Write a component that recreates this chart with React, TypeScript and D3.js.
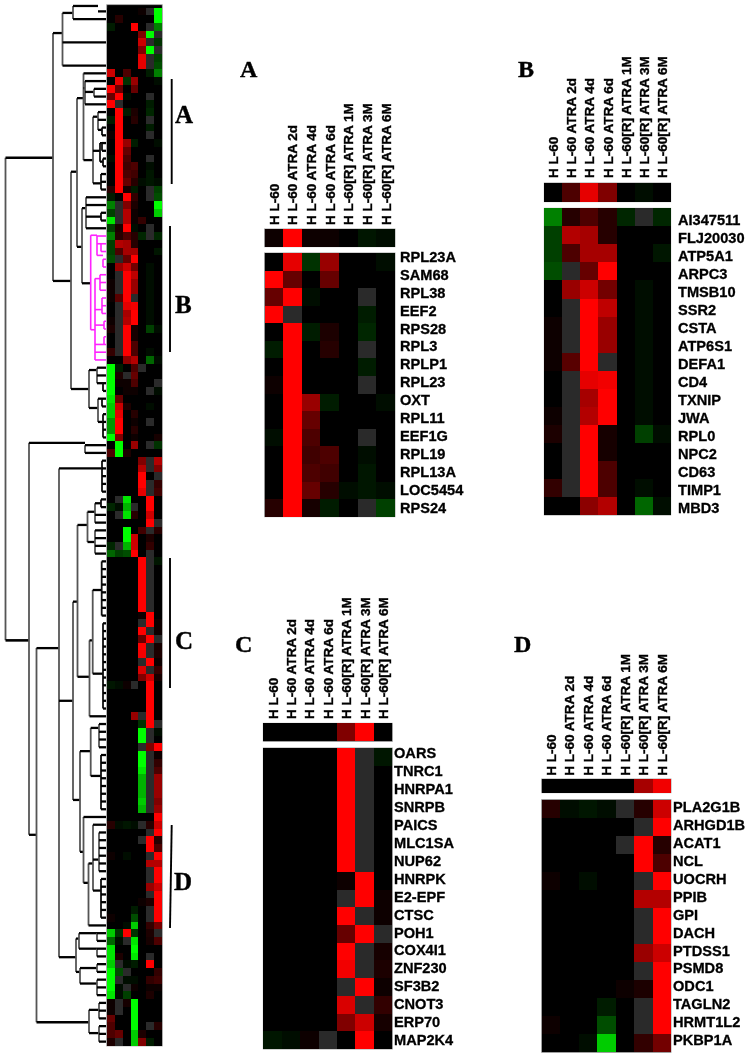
import React from "react";
import * as d3 from "d3";

const N = null; // missing value, drawn dark grey
type Cell = number | null;
type Row = Cell[];

const samples = ["H L-60", "H L-60 ATRA 2d", "H L-60 ATRA 4d", "H L-60 ATRA 6d", "H L-60[R] ATRA 1M", "H L-60[R] ATRA 3M", "H L-60[R] ATRA 6M"];

const genesA = ["RPL23A", "SAM68", "RPL38", "EEF2", "RPS28", "RPL3", "RPLP1", "RPL23", "OXT", "RPL11", "EEF1G", "RPL19", "RPL13A", "LOC5454", "RPS24"];
const stripA: Row = [0.5, 10, 0.5, 0.5, 0.2, -0.7, -0.3];
const valuesA: Row[] = [
  [0, 9, -2, 6, 0, 0, -0.5],
  [10, 4, 0, 4, 0, 0, 0],
  [4, 10, -0.3, 0, 0, N, 0],
  [10, N, 0, 0, 0, -1.2, 0],
  [0, 10, -1, 1, 0, -1.5, 0],
  [-1, 10, -0.2, 1.5, 0, N, 0],
  [0, 10, 0, 0.2, 0, -1, 0],
  [0.3, 10, 0, 0, 0, N, 0],
  [0, 10, 6, -1, 0, 0, -0.5],
  [0, 10, 4, 0, 0, 0, 0],
  [-0.3, 10, 3, 0, 0, N, 0],
  [0, 10, 2.5, 3, 0, -0.4, 0],
  [-0.2, 10, 3, 2.5, 0, -0.8, 0],
  [0, 10, 4, 1.5, -0.3, -0.7, -0.3],
  [1.5, 10, 0.8, -1, 0, N, -2.5],
];

const genesB = ["AI347511", "FLJ20030", "ATP5A1", "ARPC3", "TMSB10", "SSR2", "CSTA", "ATP6S1", "DEFA1", "CD4", "TXNIP", "JWA", "RPL0", "NPC2", "CD63", "TIMP1", "MBD3"];
const stripB: Row = [0, 3, 9, 5, 0, -0.3, 0];
const valuesB: Row[] = [
  [-5, 1.5, 3, 1.5, -1.5, N, -1.5],
  [-2.5, 7, 6.5, 1.5, 0, 0, -0.2],
  [-2.5, 3, 6.5, 6.5, 0, 0, -0.8],
  [-3, N, 4, 10, 0, 0.2, 0],
  [0, 6, 8, 4.5, 0, -0.4, 0],
  [0, N, 10, 7.5, 0, -0.3, 0],
  [0.4, N, 10, 6, 0, -0.3, -0.2],
  [0.3, N, 10, 6, 0, -0.5, 0],
  [0.3, 3.5, 10, N, 0, -0.4, 0],
  [0.2, N, 9, 9.5, 0, -0.3, 0],
  [0.2, N, 6.5, 10, 0, -0.3, 0],
  [0.4, N, 7, 10, 0, -0.5, 0],
  [1, N, 10, 0.8, 0, -2.5, -0.3],
  [0.2, N, 10, 0.8, 0, -0.2, 0],
  [0, N, 10, 3, 0, -0.2, 0],
  [2, N, 10, 3, 0, -0.4, 0],
  [0, 0, 5.5, 7, 0, -4, -0.4],
];

const genesC = ["OARS", "TNRC1", "HNRPA1", "SNRPB", "PAICS", "MLC1SA", "NUP62", "HNRPK", "E2-EPF", "CTSC", "POH1", "COX4I1", "ZNF230", "SF3B2", "CNOT3", "ERP70", "MAP2K4"];
const stripC: Row = [0, 0, 0, 0, 5, 10, 0];
const valuesC: Row[] = [
  [0, 0, 0, 0, 10, N, -0.8],
  [0, 0, 0, 0, 10, N, -0.2],
  [0, 0, 0, 0, 10, N, 0],
  [0, 0, 0, 0, 10, N, 0],
  [0, 0, 0, 0, 10, N, 0],
  [0, 0, 0, 0, 10, N, 0],
  [0, 0, 0, 0, 10, N, 0],
  [0, 0, 0, 0, 0.4, 10, 0],
  [0, 0, 0, 0, N, 10, 0.6],
  [0, 0, 0, 0, 10, N, 0.4],
  [0, 0, 0, 0, 4, 10, N],
  [0, 0, 0, 0, 10, N, 0.7],
  [0, 0, 0, 0, 9.5, N, 1.2],
  [0, 0, 0, 0, N, 10, 0.5],
  [0, 0, 0, 0, 8.5, N, 2],
  [0, 0, 0, 0, 5, 8, 0.8],
  [-0.7, -0.4, 0.5, N, 0, 10, 0],
];

const genesD = ["PLA2G1B", "ARHGD1B", "ACAT1", "NCL", "UOCRH", "PPIB", "GPI", "DACH", "PTDSS1", "PSMD8", "ODC1", "TAGLN2", "HRMT1L2", "PKBP1A"];
const stripD: Row = [0, 0, 0, -0.2, 0, 6.5, 9.5];
const valuesD: Row[] = [
  [1.5, -0.6, -0.8, -0.6, N, 1.5, 8],
  [0, 0, 0, 0, 0.2, N, 10],
  [0, 0, 0, 0, N, 10, 1.5],
  [0, 0, 0, 0, 0.1, 10, 3],
  [0.3, -0.1, -0.3, -0.2, 0, N, 10],
  [0, 0, 0, 0, 0.1, 7, 7],
  [0, 0, 0, 0, 0.1, N, 10],
  [0, 0, 0, 0, 0.1, N, 10],
  [0, 0, 0, 0, 0.1, 6, 8],
  [0, 0, 0, 0, 0, N, 10],
  [0, 0, 0, 0, 0.4, 1, 10],
  [0, 0, 0, -1, 0, N, 10],
  [0.3, 0, -0.1, -3, 0, N, 10],
  [0, 0, -0.6, -8, 0, 2, 4.5],
];

// Overview rows that are not part of one of the four enlarged clusters
const overviewTop: Row[] = [
  [0, 0, 0, 0, 0.3, N, -10],
  [0, 1.5, 0, -0.2, 0, 0.2, -10],
  [-1, 0, 0, 10, 0, N, -5],
  [0, 0, 0, 0, 5, -10, N],
  [0, 0, 0, 0, 8, N, -2],
  [0, 0, 0, 0, 5, -10, N],
  [0, 0, 0, 0, 9, N, -2.5],
  [0, 0, 0, 0, 9, N, -3],
  [8, 0, 3, 0, 0, -1, -5],
];
const overviewAB: Row[] = [
  [-1, 0, 10, 2, 0, N, -3],
  [-5, N, 5, 1, 0, 0, -10],
  [-2.5, N, 7, 0.5, 0, 0, -8],
  [-9, N, 7, 0.5, 2, 0, 0],
  [-2.5, 1, 10, -0.5, 0, N, 0],
];
const overviewBC: Row[] = [
  [-10, -1, 0.2, 3, N, -0.1, 0],
  [-10, 1, N, 4, 0, 0, 0],
  [-10, 0.3, 0.3, 3, 0, 0, N],
  [-10, 0.2, 0.6, 0.6, 0, N, -0.3],
  [-9, 4, 0.1, -0.1, 0, 0, 0],
  [-8, 8, 1, -0.1, 0, -0.3, 0],
  [-8, 9, 0.1, 1.5, 0, 0, 0],
  [-6, 10, 0, 0.5, 0, N, 0],
  [-6, 10, 0, 1.5, 0, 0, 0],
  [-10, 5, -0.2, 0.3, 0, 0, 0.8],
  [0, -10, 0.1, 6, 0, N, -2],
  [3, -10, 1, 0, 0, 0, -0.2],
  [0, 0, 0, 0, 5, N, 7],
  [0, 0, 0, 0, 7, N, 5],
  [0, 0, 0, 0, 10, 0, N],
  [0, 0, 0, 0, 10, N, 2],
  [0, 0, 0, 0, 9, N, 2.5],
  [0, N, -9, 0, 0, 10, 0],
  [-1.5, -0.5, -7, N, 0, 10, 0],
  [0, N, -9, 1.5, 0, 8, 0],
  [0, 0, 0, 0, 0, 10, N],
  [0, 0, -10, 0, 2.5, N, 1.5],
  [0, 0, -10, 8, 0, 1, 0],
  [-1.5, N, -7, 8, 0, 2, 0],
  [-4, -2.5, -3, 10, 0, N, 0],
];
const overviewCD: Row[] = [
  [0, 0, 0, 0, 0, 10, 0],
  [0, 0, 0, 0, 0, 10, 0],
  [0, 0, 0, 0, 0, 10, 0],
  [0.1, -0.2, 0, 6, N, 10, 0],
  [0, 0, 0, 0, -2, 10, N],
  [0, 0, 0, 0, -10, N, -0.5],
  [0, 0, 0, 0, -10, N, 0],
  [0, 0, 0, 0, N, 5, 10],
  [0, 0, 0, 0, -10, N, 0.3],
  [0, 0, 0, 0, -10, N, 2],
  [0, 0, 0, 0, -9, N, 3],
  [0, 0, 0, 0, -7, N, 6],
  [0, 0, 0, 0, -7, N, 6],
  [0, 0, 0, 0, -7, N, 6],
  [0, 0, 0, 0, -8, N, 5],
  [0, 0, 0, 0, -7, N, 6],
  [0, 0, -0.2, 0, 0, 0, 10],
];
const overviewBottom: Row[] = [
  [-8, -2, 10, -2, 0, 1, N],
  [-4, -0.5, N, -9, 0, 0.8, 3],
  [-9, 0, 0, -10, 0, 0, 0],
  [-9, 1, 0, -9, 0, N, 0],
  [-8, N, -0.3, -1, 0, 10, 0],
  [-10, -3, N, -0.2, 0, 0, 2],
  [-10, N, -0.5, -0.3, 0, 2, 2.5],
  [-10, -0.3, N, 0.3, 0, 0.5, 0.5],
  [-9, -0.3, -2.5, 0, 0, 1.2, 0],
  [0.3, N, 0.8, -10, 0, 0.2, 0],
  [0.5, N, 0, -10, 0, 0, 0],
  [4, 0.2, 0.2, -10, 0, 0, 0],
  [3, 0, 0, -10, 0, N, 1.5],
  [3, 4, 0, -8, 1, 0, 0],
  [1, N, 0, -8, 5, -1, 0],
];
const overviewRows: Row[] = [...overviewTop, ...valuesA, ...overviewAB, ...valuesB, ...overviewBC, ...valuesC, ...overviewCD, ...valuesD, ...overviewBottom];

// Cluster tree: [merge height, row position of the branch, ...children]; a bare number is a heat-map row.
type Tree = number | any[];
const treeUpper: Tree = [53, 19.4,
  [43.5, 3.3, [33, 0.7, [8, -0.2, 0], 1], 4, 7],
  [35, 35.3,
    [29, 21.2,
      [22.5, 11.7, 8,
        [21, 10.4, 9, [12, 10.9, 10, 11], 12],
        [13, 19.7, [8, 14.1, 13, 14, [4, 15.8, 15, 16]], [6, 18.5, [4, 17.5, 17, 18], [3, 19.9, 19, 20]], [5, 22.7, 21, 22, 23]]],
      [24, 30.9,
        [20, 25.9, 24, 25, [5, 27, 26, 27], 28],
        [15.3, 35.6,
          [9, 29.4, 29, [5, 30.5, 30, 31], [3, 32, 32, 33]],
          [11, 41.6, [6, 35, 34, 35, 36], [4, 39, 37, 38, 39], [2, 41, 40, 41], [2, 43.5, 42, 43], 44, 45]]]],
    [17, 49.25,
      [9, 46.8, 46, 47, [3, 48.5, 48, 49]],
      [8, 51.7, [4, 50.5, 50, 51], [3, 53.5, 52, 53, 54, 55]]]]];
const treeLower: Tree = [77, 81.7,
  [21, 56.2, 56, 57],
  [69.5, 106.8,
    [47, 82.7,
      [4, 59.5, 58, 59, 60, 61, 62],
      [33, 89.5,
        [28.5, 76.7,
          [18.5, 66.8, [11, 65.1, [5, 64, 63, 64], 65, 66], [11, 69, 67, 68, 69, 70]],
          [16.5, 86.4,
            [13.3, 81.7, [4.3, 75.2, 71, 72, 73, 74, 75, 76, 77, 78], [3, 86, 79, 80, 81, 82, 83, 84, 85, 86, 87, 88, 89, 90]],
            91]],
        [26, 102.3,
          [15.3, 96, [7, 93, 92, 93, 94, 95], [5, 99.2, 96, 97, 98, 99, 100, 101, 102, 103]],
          [22.5, 109, 104,
            [17.5, 113, [13, 110.5, 105, [7, 110, 106, 107, 108, 109, 110, 111], [5, 114, 112, 113, 114, 115, 116, 117]], 118]]]],
      [30, 122.6,
        [27, 120.2, [9, 119.5, 119, 120], [9, 121.5, 121, 122]],
        [26, 124.5, [9, 124, 123, 124], [9, 126, 125, 126, 127]]]],
    [17, 131, [7, 129.4, 128, 129, 130], [7, 132.4, 131, 132, 133]]]];
const treeRootHeight = 100.5;
const highlightedRows = [29, 45];

const color = d3.scaleLinear<string>().domain([-10, 0, 10]).range(["#00ff00", "#000000", "#ff0000"]).clamp(true);
const fill = (v: Cell) => (v === null ? "#2a2a2a" : color(v));

const cols = d3.range(7);
const overviewX = d3.scaleBand<number>().domain(cols).range([106.7, 162.3]);
const overviewY = d3.scaleLinear().domain([0, overviewRows.length]).range([7.5, 1045.5]);
const treeX = d3.scaleLinear().domain([0, 100.5]).range([106, 5.5]);

function leaves(t: Tree): number[] {
  return typeof t === "number" ? [t] : t.slice(2).flatMap(leaves);
}
const isHighlighted = (t: Tree) => {
  const l = leaves(t);
  return d3.min(l)! >= highlightedRows[0] && d3.max(l)! <= highlightedRows[1];
};
const rowOf = (t: Tree) => (typeof t === "number" ? t + 0.5 : t[1]);

function drawTree(t: any[], out: React.ReactNode[]) {
  const [h, , ...kids] = t;
  const x = treeX(h);
  const hl = isHighlighted(t);
  const rs = kids.map(rowOf);
  if (kids.length > 1)
    out.push(<line key={out.length} x1={x} x2={x} y1={overviewY(d3.min(rs)!)} y2={overviewY(d3.max(rs)!)} stroke={hl ? "#ff22ff" : h > 6 ? "#555" : "#111"} strokeWidth={hl ? 1.6 : 1.8} />);
  kids.forEach((k: Tree) => {
    const x2 = typeof k === "number" ? treeX(0) : treeX(k[0]);
    const y = overviewY(rowOf(k));
    out.push(<line key={out.length} x1={x} x2={x2} y1={y} y2={y} stroke={hl ? "#ff22ff" : "#000"} strokeWidth={hl ? 1.6 : 2.3} />);
    if (typeof k !== "number") drawTree(k, out);
  });
}

type PanelProps = {
  letter: string; letterX: number; letterY: number;
  x0: number; x1: number;
  stripY: [number, number]; matY: [number, number];
  strip: Row; values: Row[]; genes: string[];
  labelX: number; labelY: [number, number]; headY: number;
};

function Panel(p: PanelProps) {
  const x = d3.scaleBand<number>().domain(cols).range([p.x0, p.x1]);
  const y = d3.scaleBand<number>().domain(d3.range(p.genes.length)).range(p.matY);
  const labelY = d3.scalePoint<string>().domain(p.genes).range(p.labelY);
  return (
    <g>
      <text x={p.letterX} y={p.letterY} fontFamily="'Liberation Serif', serif" fontWeight="bold" fontSize={24} fill="#000" stroke="#000" strokeWidth={0.4}>{p.letter}</text>
      {samples.map((s, i) => (
        <text key={s} transform={`translate(${x(i)! + x.bandwidth() / 2 + 5},${p.headY}) rotate(-90)`} fontFamily="'Liberation Sans', Arial, sans-serif" fontWeight="bold" fontSize={13.5} fill="#000" stroke="#000" strokeWidth={0.35}>{s}</text>
      ))}
      <rect x={p.x0} y={p.stripY[0]} width={p.x1 - p.x0} height={p.stripY[1] - p.stripY[0]} fill="#000" stroke="#999" strokeWidth={0.9} />
      {p.strip.map((v, i) => (
        <rect key={i} shapeRendering="crispEdges" x={x(i)} y={p.stripY[0]} width={x.bandwidth()} height={p.stripY[1] - p.stripY[0]} fill={fill(v)} />
      ))}
      <rect x={p.x0} y={p.matY[0]} width={p.x1 - p.x0} height={p.matY[1] - p.matY[0]} fill="#000" stroke="#999" strokeWidth={0.9} />
      {p.values.map((row, r) => row.map((v, c) => (
        <rect key={`${r}-${c}`} shapeRendering="crispEdges" x={x(c)} y={y(r)} width={x.bandwidth()} height={y.bandwidth()} fill={fill(v)} />
      )))}
      {p.genes.map((g) => (
        <text key={g} x={p.labelX} y={labelY(g)} dy="0.36em" fontFamily="'Liberation Sans', Arial, sans-serif" fontWeight="bold" fontSize={14.6} fill="#000" stroke="#000" strokeWidth={0.3}>{g}</text>
      ))}
    </g>
  );
}

const brackets = [
  { label: "A", x1: 171.7, x2: 171.7, y1: 79, y2: 184, tx: 175, ty: 123 },
  { label: "B", x1: 170, x2: 170, y1: 226, y2: 352, tx: 175, ty: 313 },
  { label: "C", x1: 170, x2: 170, y1: 558, y2: 688, tx: 175, ty: 649 },
  { label: "D", x1: 171.7, x2: 170, y1: 825, y2: 928, tx: 174, ty: 890 },
];

export default function App() {
  const branches: React.ReactNode[] = [];
  drawTree(treeUpper as any[], branches);
  drawTree(treeLower as any[], branches);
  const rootX = treeX(treeRootHeight);
  const upperY = overviewY(rowOf(treeUpper));
  const lowerY = overviewY(rowOf(treeLower));
  return (
    <svg width={752} height={1058} style={{ position: "absolute", left: 0, top: 0, display: "block", background: "#fff" }}>
      <defs>
        <filter id="soft" x="-2%" y="-2%" width="104%" height="104%">
          <feGaussianBlur stdDeviation="0.5" />
        </filter>
      </defs>
      <g filter="url(#soft)">
        {/* dendrogram */}
        <line x1={rootX} x2={rootX} y1={upperY} y2={lowerY} stroke="#555" strokeWidth={1.8} />
        <line x1={rootX} x2={treeX((treeUpper as any[])[0])} y1={upperY} y2={upperY} stroke="#000" strokeWidth={2.6} />
        <line x1={rootX} x2={treeX((treeLower as any[])[0])} y1={lowerY} y2={lowerY} stroke="#000" strokeWidth={2.6} />
        {branches}
        {/* overview heat map */}
        <rect x={106.7} y={4.7} width={55.6} height={1041.3} fill="#000" stroke="#aaa" strokeWidth={0.8} />
        {overviewRows.map((row, r) => row.map((v, c) => (
          <rect key={`${r}-${c}`} shapeRendering="crispEdges" x={overviewX(c)} y={overviewY(r)} width={overviewX.bandwidth()} height={overviewY(1) - overviewY(0)} fill={fill(v)} />
        )))}
        {brackets.map((b) => (
          <g key={b.label}>
            <line x1={b.x1} x2={b.x2} y1={b.y1} y2={b.y2} stroke="#000" strokeWidth={1.9} />
            <text x={b.tx} y={b.ty} fontFamily="'Liberation Serif', serif" fontWeight="bold" fontSize={25} fill="#000" stroke="#000" strokeWidth={0.4}>{b.label}</text>
          </g>
        ))}
        <Panel letter="A" letterX={240} letterY={77} x0={264.5} x1={395} stripY={[229, 246.7]} matY={[253, 516.7]} strip={stripA} values={valuesA} genes={genesA} labelX={400} labelY={[256.7, 507.3]} headY={225} />
        <Panel letter="B" letterX={518} letterY={77} x0={544.3} x1={670.7} stripY={[183, 201.7]} matY={[208.3, 515]} strip={stripB} values={valuesB} genes={genesB} labelX={678} labelY={[220, 507.3]} headY={178} />
        <Panel letter="C" letterX={235} letterY={652} x0={263.3} x1={392.3} stripY={[723.3, 741.3]} matY={[748, 1049]} strip={stripC} values={valuesC} genes={genesC} labelX={394} labelY={[752.7, 1040]} headY={719} />
        <Panel letter="D" letterX={514} letterY={652} x0={541.7} x1={671} stripY={[779, 792.7]} matY={[799.7, 1052.3]} strip={stripD} values={valuesD} genes={genesD} labelX={673} labelY={[806.7, 1040]} headY={775.7} />
      </g>
    </svg>
  );
}
